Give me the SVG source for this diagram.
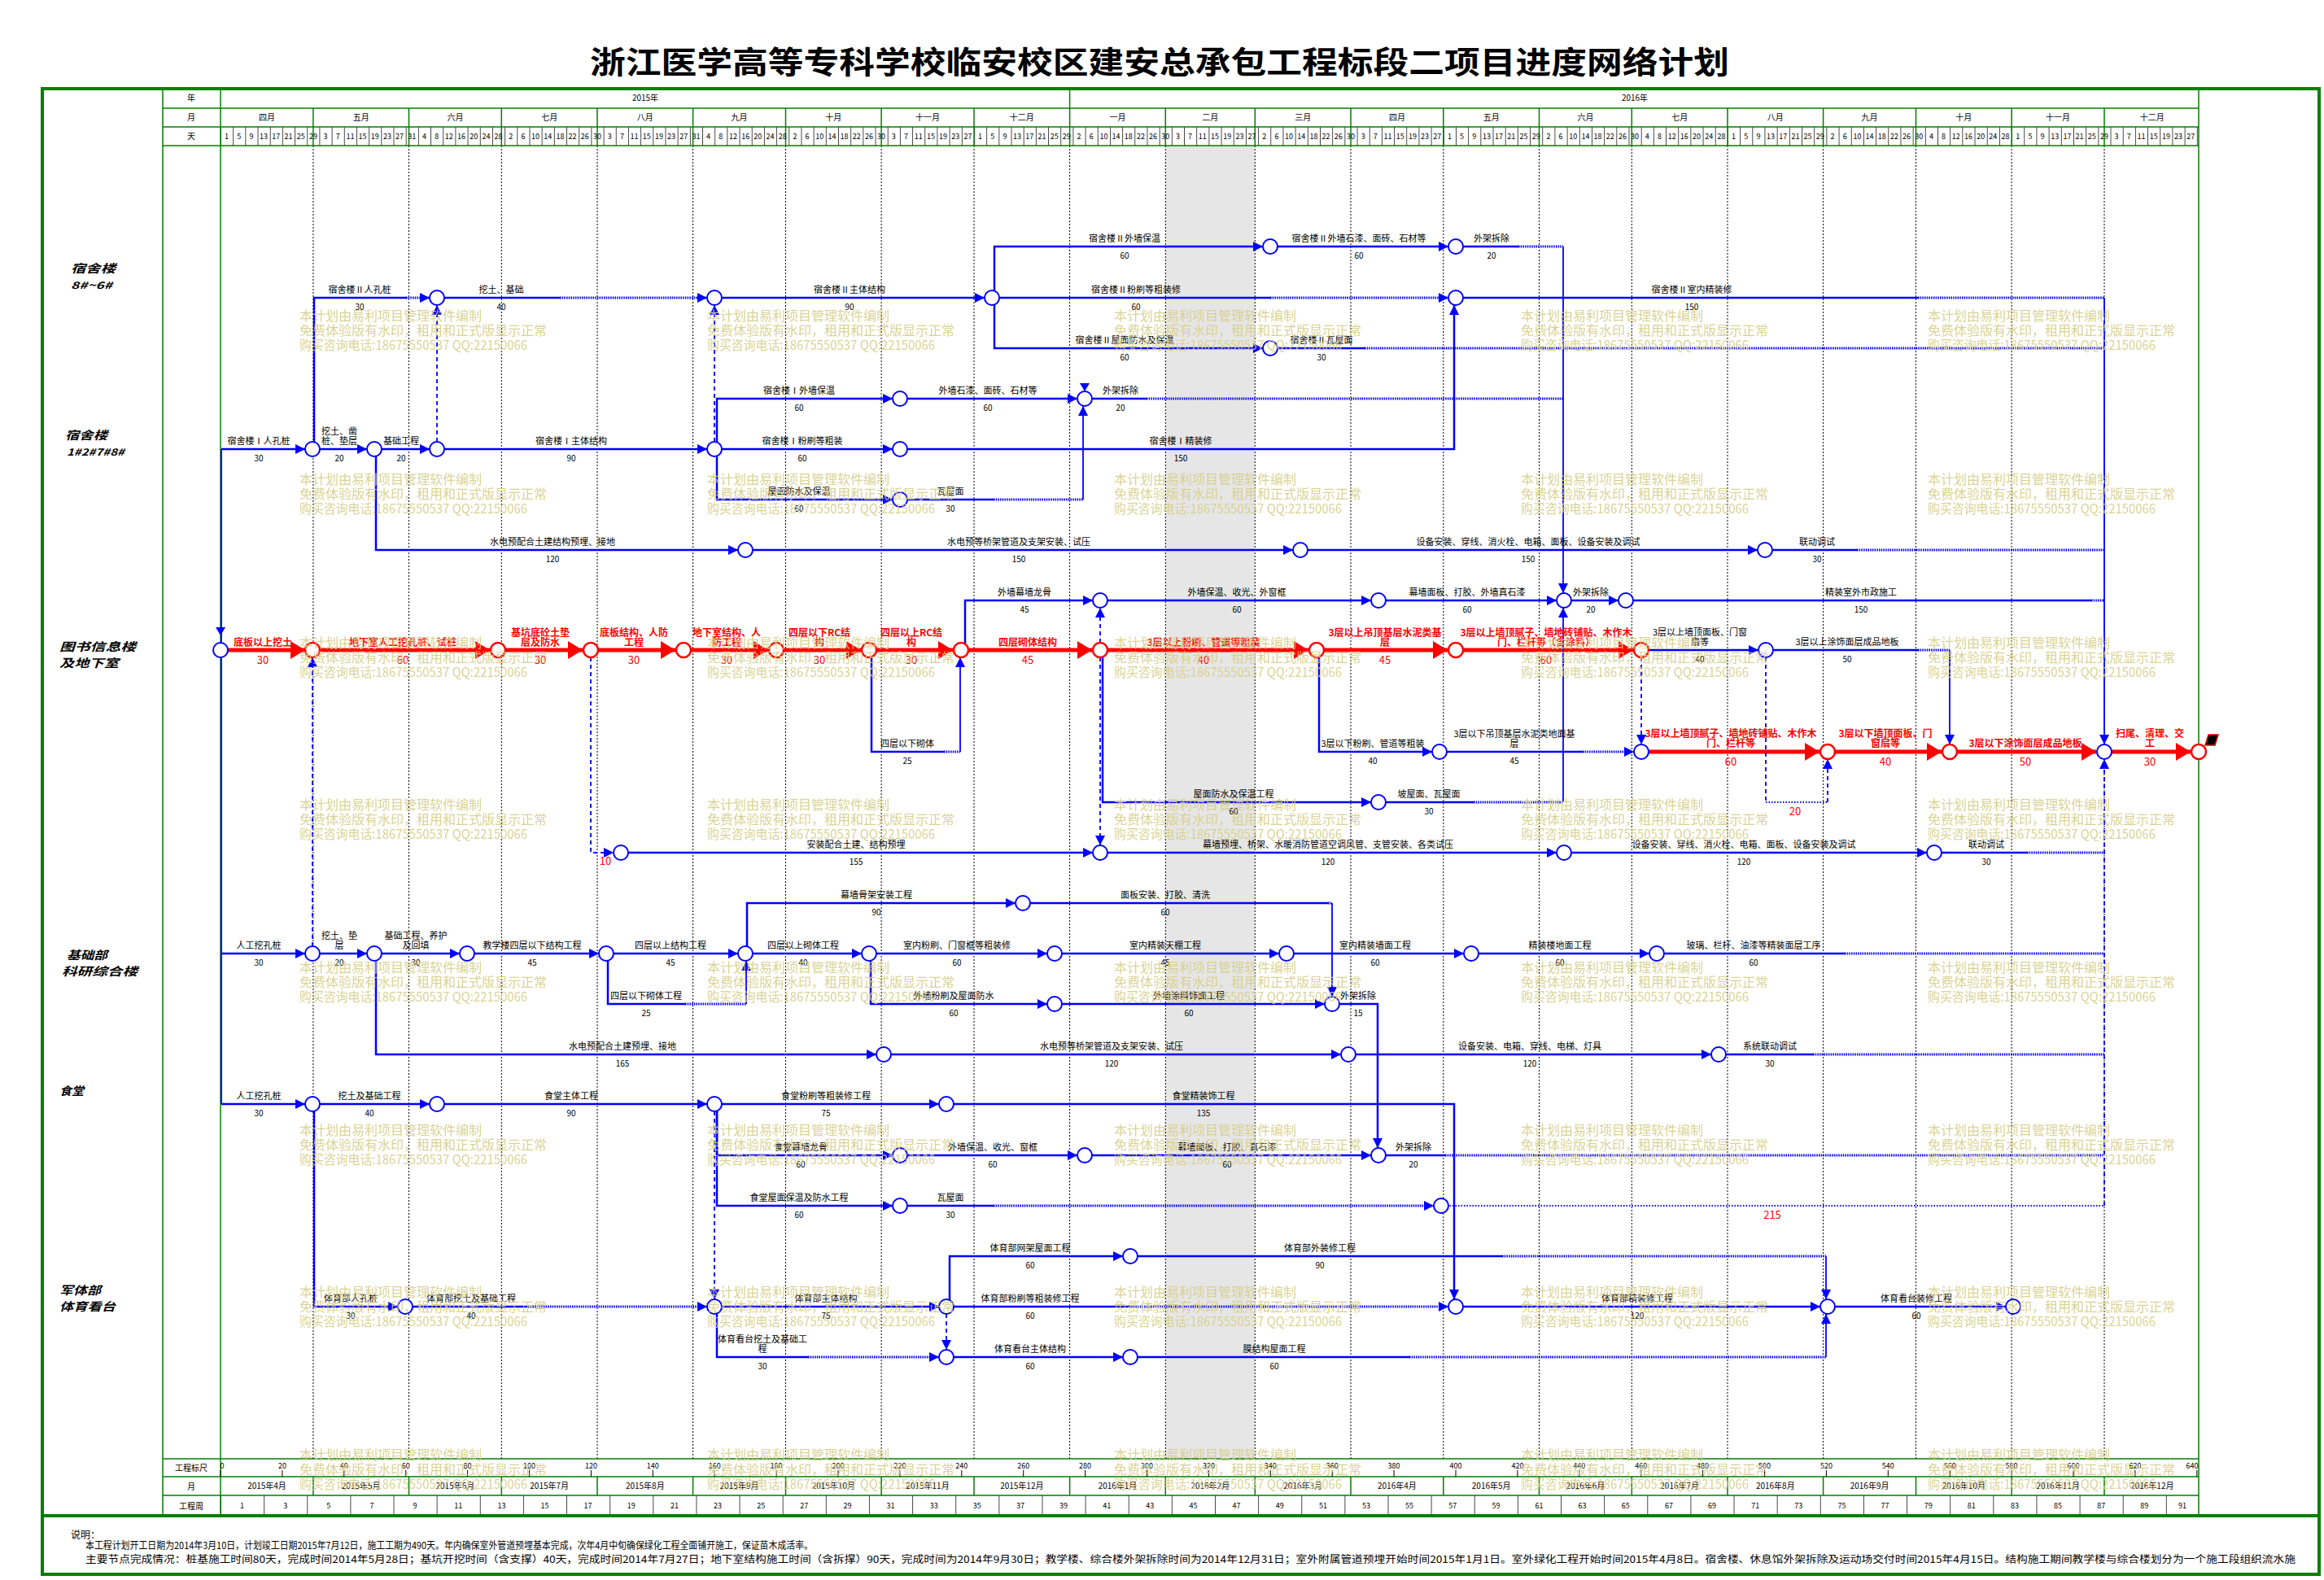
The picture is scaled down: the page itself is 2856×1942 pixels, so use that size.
<svg xmlns="http://www.w3.org/2000/svg" width="2856" height="1942" viewBox="0 0 2856 1942">
<style>
text{font-family:"Noto Sans CJK SC","Liberation Sans",sans-serif}
.n{font-size:11px;text-anchor:middle;fill:#000}
.d{font-size:10px;text-anchor:middle;fill:#000;font-family:"Liberation Sans",sans-serif}
.rn{font-size:12px;text-anchor:middle;fill:#f00;font-weight:bold}
.rd{font-size:13px;text-anchor:middle;fill:#f00;font-family:"Liberation Sans",sans-serif}
.h{font-size:10px;text-anchor:middle;fill:#000}
.dl{font-size:9px;text-anchor:middle;fill:#000;font-family:"Liberation Sans",sans-serif}
.lb{font-size:14px;font-weight:bold;font-style:italic;fill:#000}
.ls{font-size:12px;font-weight:bold;font-style:italic;fill:#000}
.wm{font-size:16px;fill:#d6cd88}
.b{stroke:#00f;stroke-width:2.5;fill:none}
.bt{stroke:#00f;stroke-width:1.8;fill:none}
.w{stroke:#00f;stroke-width:3;stroke-dasharray:1.5 1.2;fill:none}
.wt{stroke:#00f;stroke-width:2;stroke-dasharray:1.5 2;fill:none}
.v{stroke:#00f;stroke-width:1.8;stroke-dasharray:5 4;fill:none}
.r{stroke:#f00;stroke-width:5;fill:none}
.nb{fill:#fff;stroke:#00f;stroke-width:2}
.nr{fill:#fff;stroke:#f00;stroke-width:2.5}
.g{stroke:#008000;fill:none}
</style>
<defs>
<marker id="ab" viewBox="0 0 12 12" markerWidth="12" markerHeight="12" refX="12" refY="6" orient="auto" markerUnits="userSpaceOnUse"><path d="M0,0L12,6L0,12z" fill="#00f"/></marker>
<marker id="ar" viewBox="0 0 18 22" markerWidth="18" markerHeight="22" refX="18" refY="11" orient="auto" markerUnits="userSpaceOnUse"><path d="M0,0L18,11L0,22z" fill="#f00"/></marker>
<pattern id="dp" x="271" y="0" width="15.18" height="40" patternUnits="userSpaceOnUse"><line x1="0.4" y1="0" x2="0.4" y2="40" stroke="#000" stroke-width="0.8"/></pattern>
<pattern id="wp" x="271" y="0" width="53.13" height="40" patternUnits="userSpaceOnUse"><line x1="0.4" y1="0" x2="0.4" y2="40" stroke="#000" stroke-width="0.8"/></pattern>
<g id="wm" class="wm"><text x="0" y="6">本计划由易利项目管理软件编制</text><text x="0" y="24">免费体验版有水印，租用和正式版显示正常</text><text x="0" y="42" textLength="280" lengthAdjust="spacingAndGlyphs">购买咨询电话:18675550537 QQ:22150066</text></g>
</defs>
<rect width="2856" height="1942" fill="#fff"/>
<text x="1425" y="90" text-anchor="middle" font-size="38" font-weight="bold" textLength="1400" lengthAdjust="spacingAndGlyphs">浙江医学高等专科学校临安校区建安总承包工程标段二项目进度网络计划</text>

<g id="grid">
<rect x="1432" y="179" width="110" height="1614" fill="#e6e6e6"/>
<rect x="271" y="156" width="2431" height="23" fill="url(#dp)"/>
<rect x="271" y="1838" width="2431" height="25" fill="url(#wp)"/>
<path d="M384.9 179V1793M502.5 179V1793M616.3 179V1793M734 179V1793M851.6 179V1793M965.5 179V1793M1083.1 179V1793M1197 179V1793M1314.6 179V1793M1432.3 179V1793M1542.3 179V1793M1660 179V1793M1773.8 179V1793M1891.5 179V1793M2005.3 179V1793M2123 179V1793M2240.6 179V1793M2354.5 179V1793M2472.1 179V1793M2586 179V1793" stroke="#000" stroke-width="1" stroke-dasharray="2 2" fill="none"/>
<path class="g" stroke-width="1.5" d="M384.9 133V179M502.5 133V179M616.3 133V179M734 133V179M851.6 133V179M965.5 133V179M1083.1 133V179M1197 133V179M1314.6 107V179M1432.3 133V179M1542.3 133V179M1660 133V179M1773.8 133V179M1891.5 133V179M2005.3 133V179M2123 133V179M2240.6 133V179M2354.5 133V179M2472.1 133V179M2586 133V179"/>
<path class="g" stroke-width="1.5" d="M384.9 1815V1838M502.5 1815V1838M616.3 1815V1838M734 1815V1838M851.6 1815V1838M965.5 1815V1838M1083.1 1815V1838M1197 1815V1838M1314.6 1815V1838M1432.3 1815V1838M1542.3 1815V1838M1660 1815V1838M1773.8 1815V1838M1891.5 1815V1838M2005.3 1815V1838M2123 1815V1838M2240.6 1815V1838M2354.5 1815V1838M2472.1 1815V1838M2586 1815V1838"/>
<path class="g" stroke-width="1.5" d="M200 133H2702M200 156H2702M200 179H2702M200 1793H2702M200 1815H2702M200 1838H2702M200 107V1863M271 107V1863M2702 107V1863"/>
<path stroke="#000" stroke-width="1" fill="none" d="M271 1807V1815M346.9 1807V1815M422.8 1807V1815M498.7 1807V1815M574.6 1807V1815M650.5 1807V1815M726.4 1807V1815M802.3 1807V1815M878.2 1807V1815M954.1 1807V1815M1030 1807V1815M1105.9 1807V1815M1181.8 1807V1815M1257.7 1807V1815M1333.6 1807V1815M1409.5 1807V1815M1485.4 1807V1815M1561.3 1807V1815M1637.2 1807V1815M1713.1 1807V1815M1789 1807V1815M1864.9 1807V1815M1940.8 1807V1815M2016.7 1807V1815M2092.6 1807V1815M2168.5 1807V1815M2244.4 1807V1815M2320.3 1807V1815M2396.2 1807V1815M2472.1 1807V1815M2548 1807V1815M2623.9 1807V1815M2699.8 1807V1815"/>
<rect x="52" y="109" width="2798" height="1826" class="g" stroke-width="4"/>
<path class="g" stroke-width="4" d="M52 1863H2850"/>
</g>

<g id="header-text">
<text class="h" x="235" y="124">年</text><text class="h" x="235" y="148">月</text><text class="h" x="235" y="171">天</text>
<text class="h" x="793" y="124">2015年</text><text class="h" x="2009" y="124">2016年</text>
<text class="h" x="328" y="148">四月</text><text class="h" x="443.7" y="148">五月</text><text class="h" x="559.4" y="148">六月</text><text class="h" x="675.2" y="148">七月</text><text class="h" x="792.8" y="148">八月</text><text class="h" x="908.6" y="148">九月</text><text class="h" x="1024.3" y="148">十月</text><text class="h" x="1140" y="148">十一月</text><text class="h" x="1255.8" y="148">十二月</text><text class="h" x="1373.5" y="148">一月</text><text class="h" x="1487.3" y="148">二月</text><text class="h" x="1601.2" y="148">三月</text><text class="h" x="1716.9" y="148">四月</text><text class="h" x="1832.7" y="148">五月</text><text class="h" x="1948.4" y="148">六月</text><text class="h" x="2064.2" y="148">七月</text><text class="h" x="2181.8" y="148">八月</text><text class="h" x="2297.6" y="148">九月</text><text class="h" x="2413.3" y="148">十月</text><text class="h" x="2529.1" y="148">十一月</text><text class="h" x="2644.8" y="148">十二月</text>
<g class="dl">
<text x="278.6" y="171">1</text><text x="293.8" y="171">5</text><text x="309" y="171">9</text><text x="324.1" y="171">13</text><text x="339.3" y="171">17</text><text x="354.5" y="171">21</text><text x="369.7" y="171">25</text><text x="384.9" y="171">29</text>
<text x="400" y="171">3</text><text x="415.2" y="171">7</text><text x="430.4" y="171">11</text><text x="445.6" y="171">15</text><text x="460.8" y="171">19</text><text x="475.9" y="171">23</text><text x="491.1" y="171">27</text><text x="506.3" y="171">31</text>
<text x="521.5" y="171">4</text><text x="536.7" y="171">8</text><text x="551.8" y="171">12</text><text x="567" y="171">16</text><text x="582.2" y="171">20</text><text x="597.4" y="171">24</text><text x="612.6" y="171">28</text>
<text x="627.7" y="171">2</text><text x="642.9" y="171">6</text><text x="658.1" y="171">10</text><text x="673.3" y="171">14</text><text x="688.5" y="171">18</text><text x="703.6" y="171">22</text><text x="718.8" y="171">26</text><text x="734" y="171">30</text>
<text x="749.2" y="171">3</text><text x="764.4" y="171">7</text><text x="779.5" y="171">11</text><text x="794.7" y="171">15</text><text x="809.9" y="171">19</text><text x="825.1" y="171">23</text><text x="840.3" y="171">27</text><text x="855.4" y="171">31</text>
<text x="870.6" y="171">4</text><text x="885.8" y="171">8</text><text x="901" y="171">12</text><text x="916.2" y="171">16</text><text x="931.3" y="171">20</text><text x="946.5" y="171">24</text><text x="961.7" y="171">28</text>
<text x="976.9" y="171">2</text><text x="992.1" y="171">6</text><text x="1007.2" y="171">10</text><text x="1022.4" y="171">14</text><text x="1037.6" y="171">18</text><text x="1052.8" y="171">22</text><text x="1068" y="171">26</text><text x="1083.1" y="171">30</text>
<text x="1098.3" y="171">3</text><text x="1113.5" y="171">7</text><text x="1128.7" y="171">11</text><text x="1143.9" y="171">15</text><text x="1159" y="171">19</text><text x="1174.2" y="171">23</text><text x="1189.4" y="171">27</text>
<text x="1204.6" y="171">1</text><text x="1219.8" y="171">5</text><text x="1234.9" y="171">9</text><text x="1250.1" y="171">13</text><text x="1265.3" y="171">17</text><text x="1280.5" y="171">21</text><text x="1295.7" y="171">25</text><text x="1310.8" y="171">29</text>
<text x="1326" y="171">2</text><text x="1341.2" y="171">6</text><text x="1356.4" y="171">10</text><text x="1371.6" y="171">14</text><text x="1386.7" y="171">18</text><text x="1401.9" y="171">22</text><text x="1417.1" y="171">26</text><text x="1432.3" y="171">30</text>
<text x="1447.5" y="171">3</text><text x="1462.6" y="171">7</text><text x="1477.8" y="171">11</text><text x="1493" y="171">15</text><text x="1508.2" y="171">19</text><text x="1523.4" y="171">23</text><text x="1538.5" y="171">27</text>
<text x="1553.7" y="171">2</text><text x="1568.9" y="171">6</text><text x="1584.1" y="171">10</text><text x="1599.3" y="171">14</text><text x="1614.4" y="171">18</text><text x="1629.6" y="171">22</text><text x="1644.8" y="171">26</text><text x="1660" y="171">30</text>
<text x="1675.2" y="171">3</text><text x="1690.3" y="171">7</text><text x="1705.5" y="171">11</text><text x="1720.7" y="171">15</text><text x="1735.9" y="171">19</text><text x="1751.1" y="171">23</text><text x="1766.2" y="171">27</text>
<text x="1781.4" y="171">1</text><text x="1796.6" y="171">5</text><text x="1811.8" y="171">9</text><text x="1827" y="171">13</text><text x="1842.1" y="171">17</text><text x="1857.3" y="171">21</text><text x="1872.5" y="171">25</text><text x="1887.7" y="171">29</text>
<text x="1902.9" y="171">2</text><text x="1918" y="171">6</text><text x="1933.2" y="171">10</text><text x="1948.4" y="171">14</text><text x="1963.6" y="171">18</text><text x="1978.8" y="171">22</text><text x="1993.9" y="171">26</text><text x="2009.1" y="171">30</text>
<text x="2024.3" y="171">4</text><text x="2039.5" y="171">8</text><text x="2054.7" y="171">12</text><text x="2069.8" y="171">16</text><text x="2085" y="171">20</text><text x="2100.2" y="171">24</text><text x="2115.4" y="171">28</text>
<text x="2130.6" y="171">1</text><text x="2145.7" y="171">5</text><text x="2160.9" y="171">9</text><text x="2176.1" y="171">13</text><text x="2191.3" y="171">17</text><text x="2206.5" y="171">21</text><text x="2221.6" y="171">25</text><text x="2236.8" y="171">29</text>
<text x="2252" y="171">2</text><text x="2267.2" y="171">6</text><text x="2282.4" y="171">10</text><text x="2297.5" y="171">14</text><text x="2312.7" y="171">18</text><text x="2327.9" y="171">22</text><text x="2343.1" y="171">26</text><text x="2358.3" y="171">30</text>
<text x="2373.4" y="171">4</text><text x="2388.6" y="171">8</text><text x="2403.8" y="171">12</text><text x="2419" y="171">16</text><text x="2434.2" y="171">20</text><text x="2449.3" y="171">24</text><text x="2464.5" y="171">28</text>
<text x="2479.7" y="171">1</text><text x="2494.9" y="171">5</text><text x="2510.1" y="171">9</text><text x="2525.2" y="171">13</text><text x="2540.4" y="171">17</text><text x="2555.6" y="171">21</text><text x="2570.8" y="171">25</text><text x="2586" y="171">29</text>
<text x="2601.1" y="171">3</text><text x="2616.3" y="171">7</text><text x="2631.5" y="171">11</text><text x="2646.7" y="171">15</text><text x="2661.9" y="171">19</text><text x="2677" y="171">23</text><text x="2692.2" y="171">27</text>
</g>
</g>

<g id="footer-scale">
<text class="h" x="235" y="1808">工程标尺</text><text class="h" x="235" y="1831">月</text><text class="h" x="235" y="1855">工程周</text>
<g class="dl">
<text x="273" y="1805">0</text><text x="346.9" y="1805">20</text><text x="422.8" y="1805">40</text><text x="498.7" y="1805">60</text><text x="574.6" y="1805">80</text><text x="650.5" y="1805">100</text><text x="726.4" y="1805">120</text><text x="802.3" y="1805">140</text><text x="878.2" y="1805">160</text><text x="954.1" y="1805">180</text><text x="1030" y="1805">200</text><text x="1105.9" y="1805">220</text><text x="1181.8" y="1805">240</text><text x="1257.7" y="1805">260</text><text x="1333.6" y="1805">280</text><text x="1409.5" y="1805">300</text><text x="1485.4" y="1805">320</text><text x="1561.3" y="1805">340</text><text x="1637.2" y="1805">360</text><text x="1713.1" y="1805">380</text><text x="1789" y="1805">400</text><text x="1864.9" y="1805">420</text><text x="1940.8" y="1805">440</text><text x="2016.7" y="1805">460</text><text x="2092.6" y="1805">480</text><text x="2168.5" y="1805">500</text><text x="2244.4" y="1805">520</text><text x="2320.3" y="1805">540</text><text x="2396.2" y="1805">560</text><text x="2472.1" y="1805">580</text><text x="2548" y="1805">600</text><text x="2623.9" y="1805">620</text><text x="2694" y="1805">640</text>
<text x="297.6" y="1854">1</text><text x="350.7" y="1854">3</text><text x="403.8" y="1854">5</text><text x="457" y="1854">7</text><text x="510.1" y="1854">9</text><text x="563.2" y="1854">11</text><text x="616.4" y="1854">13</text><text x="669.5" y="1854">15</text><text x="722.6" y="1854">17</text><text x="775.8" y="1854">19</text><text x="828.9" y="1854">21</text><text x="882" y="1854">23</text><text x="935.2" y="1854">25</text><text x="988.3" y="1854">27</text><text x="1041.4" y="1854">29</text><text x="1094.6" y="1854">31</text><text x="1147.7" y="1854">33</text><text x="1200.8" y="1854">35</text><text x="1253.9" y="1854">37</text><text x="1307.1" y="1854">39</text><text x="1360.2" y="1854">41</text><text x="1413.3" y="1854">43</text><text x="1466.5" y="1854">45</text><text x="1519.6" y="1854">47</text><text x="1572.7" y="1854">49</text><text x="1625.9" y="1854">51</text><text x="1679" y="1854">53</text><text x="1732.1" y="1854">55</text><text x="1785.2" y="1854">57</text><text x="1838.4" y="1854">59</text><text x="1891.5" y="1854">61</text><text x="1944.6" y="1854">63</text><text x="1997.8" y="1854">65</text><text x="2050.9" y="1854">67</text><text x="2104" y="1854">69</text><text x="2157.2" y="1854">71</text><text x="2210.3" y="1854">73</text><text x="2263.4" y="1854">75</text><text x="2316.5" y="1854">77</text><text x="2369.7" y="1854">79</text><text x="2422.8" y="1854">81</text><text x="2475.9" y="1854">83</text><text x="2529.1" y="1854">85</text><text x="2582.2" y="1854">87</text><text x="2635.3" y="1854">89</text><text x="2682" y="1854">91</text>
</g>
<g class="h">
<text x="328" y="1830">2015年4月</text><text x="443.7" y="1830">2015年5月</text><text x="559.4" y="1830">2015年6月</text><text x="675.2" y="1830">2015年7月</text><text x="792.8" y="1830">2015年8月</text><text x="908.6" y="1830">2015年9月</text><text x="1024.3" y="1830">2015年10月</text><text x="1140" y="1830">2015年11月</text><text x="1255.8" y="1830">2015年12月</text><text x="1373.5" y="1830">2016年1月</text><text x="1487.3" y="1830">2016年2月</text><text x="1601.2" y="1830">2016年3月</text><text x="1716.9" y="1830">2016年4月</text><text x="1832.7" y="1830">2016年5月</text><text x="1948.4" y="1830">2016年6月</text><text x="2064.2" y="1830">2016年7月</text><text x="2181.8" y="1830">2016年8月</text><text x="2297.6" y="1830">2016年9月</text><text x="2413.3" y="1830">2016年10月</text><text x="2529.1" y="1830">2016年11月</text><text x="2644.8" y="1830">2016年12月</text>
</g>
</g>

<g id="row-labels">
<text class="lb" x="87" y="335" textLength="55" lengthAdjust="spacingAndGlyphs">宿舍楼</text><text class="ls" x="87" y="355" textLength="51" lengthAdjust="spacingAndGlyphs">8#~6#</text>
<text class="lb" x="80" y="540" textLength="52" lengthAdjust="spacingAndGlyphs">宿舍楼</text><text class="ls" x="82" y="560" textLength="71" lengthAdjust="spacingAndGlyphs">1#2#7#8#</text>
<text class="lb" x="73" y="800" textLength="94" lengthAdjust="spacingAndGlyphs">图书信息楼</text><text class="lb" x="73" y="820" textLength="73" lengthAdjust="spacingAndGlyphs">及地下室</text>
<text class="lb" x="82" y="1179" textLength="50" lengthAdjust="spacingAndGlyphs">基础部</text><text class="lb" x="76" y="1199" textLength="93" lengthAdjust="spacingAndGlyphs">科研综合楼</text>
<text class="lb" x="73" y="1346" textLength="30" lengthAdjust="spacingAndGlyphs">食堂</text>
<text class="lb" x="73" y="1591" textLength="51" lengthAdjust="spacingAndGlyphs">军体部</text><text class="lb" x="73" y="1611" textLength="69" lengthAdjust="spacingAndGlyphs">体育看台</text>
</g>

<g id="connectors">
<path class="bt" d="M272 552V1357"/>
<path d="M271 781l-6-10h12z" fill="#00f"/>
<path d="M1333 481l-6-10h12z" fill="#00f"/>
<path class="b" d="M272 552H375" marker-end="url(#ab)"/>
<path class="b" d="M384 552H451" marker-end="url(#ab)"/>
<path class="b" d="M386 552V366H499"/><path class="w" d="M499 366H528" marker-end="url(#ab)"/>
<path class="b" d="M460 552H528" marker-end="url(#ab)"/>
<path class="v" d="M537 552V375" marker-end="url(#ab)"/>
<path class="b" d="M537 366H688"/><path class="w" d="M688 366H869" marker-end="url(#ab)"/>
<path class="b" d="M537 552H869" marker-end="url(#ab)"/>
<path class="v" d="M878 552V375" marker-end="url(#ab)"/>
<path class="b" d="M878 366H1210" marker-end="url(#ab)"/>
<path class="b" d="M881 552V490H1097" marker-end="url(#ab)"/>
<path class="b" d="M878 552H1097" marker-end="url(#ab)"/>
<path class="b" d="M881 552V614H1097" marker-end="url(#ab)"/>
<path class="b" d="M1106 614H1221"/><path class="w" d="M1221 614H1331"/><path class="bt" d="M1331 614V499" marker-end="url(#ab)"/>
<path class="b" d="M462 552V676H907" marker-end="url(#ab)"/>
<path class="b" d="M916 676H1589" marker-end="url(#ab)"/>
<path class="b" d="M1598 676H2160" marker-end="url(#ab)"/>
<path class="b" d="M2169 676H2282"/><path class="w" d="M2282 676H2586"/>
<path class="b" d="M1106 490H1324" marker-end="url(#ab)"/>
<path class="b" d="M1333 490H1409"/><path class="w" d="M1409 490H1921"/>
<path class="b" d="M1106 552H1787V375" marker-end="url(#ab)"/>
<path class="b" d="M1222 366V303H1552" marker-end="url(#ab)"/>
<path class="b" d="M1219 366H1561"/><path class="w" d="M1561 366H1780" marker-end="url(#ab)"/>
<path class="b" d="M1222 366V428H1552" marker-end="url(#ab)"/>
<path class="b" d="M1561 303H1780" marker-end="url(#ab)"/>
<path class="b" d="M1789 303H1866"/><path class="w" d="M1866 303H1921"/><path class="bt" d="M1921 303V729" marker-end="url(#ab)"/>
<path class="b" d="M1789 366H2357"/><path class="w" d="M2357 366H2586"/>
<path class="b" d="M1561 428H1677"/><path class="w" d="M1677 428H2586"/>
<path class="bt" d="M2586 366V915" marker-end="url(#ab)"/>

<path class="r" d="M271 799H375" marker-end="url(#ar)"/>
<path class="r" d="M384 799H602" marker-end="url(#ar)"/>
<path class="r" d="M612 799H716" marker-end="url(#ar)"/>
<path class="r" d="M726 799H830" marker-end="url(#ar)"/>
<path class="r" d="M840 799H944" marker-end="url(#ar)"/>
<path class="r" d="M954 799H1058" marker-end="url(#ar)"/>
<path class="r" d="M1068 799H1171" marker-end="url(#ar)"/>
<path class="r" d="M1181 799H1342" marker-end="url(#ar)"/>
<path class="r" d="M1352 799H1608" marker-end="url(#ar)"/>
<path class="r" d="M1618 799H1779" marker-end="url(#ar)"/>
<path class="r" d="M1789 799H2007" marker-end="url(#ar)"/>
<path class="b" d="M2017 799H2161" marker-end="url(#ab)"/>
<path class="b" d="M2170 799H2357"/><path class="w" d="M2357 799H2396"/><path class="bt" d="M2396 799V915" marker-end="url(#ab)"/>
<path class="b" d="M1071 799V924H1160"/><path class="w" d="M1160 924H1180"/><path class="bt" d="M1180 924V808" marker-end="url(#ab)"/>
<path class="b" d="M1186 799V738H1343" marker-end="url(#ab)"/>
<path class="v" d="M1352 799V747" marker-end="url(#ab)"/>
<path class="v" d="M1352 799V1039" marker-end="url(#ab)"/>
<path class="b" d="M1355 799V986H1685" marker-end="url(#ab)"/>
<path class="b" d="M1694 986H1811"/><path class="w" d="M1811 986H1921"/><path class="bt" d="M1921 986V747" marker-end="url(#ab)"/>
<path class="b" d="M1352 738H1685" marker-end="url(#ab)"/>
<path class="b" d="M1694 738H1913" marker-end="url(#ab)"/>
<path class="b" d="M1922 738H1989" marker-end="url(#ab)"/>
<path class="b" d="M1998 738H2570"/><path class="w" d="M2570 738H2586"/>
<path class="b" d="M1621 799V924H1760" marker-end="url(#ab)"/>
<path class="b" d="M1769 924H1945"/><path class="w" d="M1945 924H2008" marker-end="url(#ab)"/>
<path class="v" d="M2017 799V915" marker-end="url(#ab)"/>
<path class="r" d="M2017 924H2236" marker-end="url(#ar)"/>
<path class="v" d="M2170 799V986"/><path class="wt" d="M2170 986H2246"/><path class="v" d="M2246 986V933" marker-end="url(#ab)"/>
<path class="r" d="M2246 924H2386" marker-end="url(#ar)"/>
<path class="r" d="M2396 924H2576" marker-end="url(#ar)"/>
<path class="r" d="M2586 924H2692" marker-end="url(#ar)"/>
<path class="v" d="M726 799V1048H754" marker-end="url(#ab)"/>
<path class="b" d="M763 1048H1343" marker-end="url(#ab)"/>
<path class="b" d="M1352 1048H1913" marker-end="url(#ab)"/>
<path class="b" d="M1922 1048H2368" marker-end="url(#ab)"/>
<path class="b" d="M2377 1048H2491"/><path class="w" d="M2491 1048H2586"/>
<path class="v" d="M384 1172V808" marker-end="url(#ab)"/>

<path class="b" d="M272 1172H375" marker-end="url(#ab)"/>
<path class="b" d="M384 1172H451" marker-end="url(#ab)"/>
<path class="b" d="M460 1172H565" marker-end="url(#ab)"/>
<path class="b" d="M574 1172H736" marker-end="url(#ab)"/>
<path class="b" d="M745 1172H907" marker-end="url(#ab)"/>
<path class="b" d="M747 1172V1234H842"/><path class="w" d="M842 1234H917"/><path class="bt" d="M917 1234V1181" marker-end="url(#ab)"/>
<path class="b" d="M916 1172H1059" marker-end="url(#ab)"/>
<path class="b" d="M918 1172V1110H1248" marker-end="url(#ab)"/>
<path class="b" d="M1068 1172H1287" marker-end="url(#ab)"/>
<path class="b" d="M1070 1172V1234H1287" marker-end="url(#ab)"/>
<path class="b" d="M462 1172V1296H1077" marker-end="url(#ab)"/>
<path class="b" d="M1257 1110H1632"/><path class="w" d="M1632 1110H1637"/><path class="bt" d="M1637 1110V1225" marker-end="url(#ab)"/>
<path class="b" d="M1296 1172H1572" marker-end="url(#ab)"/>
<path class="b" d="M1581 1172H1799" marker-end="url(#ab)"/>
<path class="b" d="M1808 1172H2027" marker-end="url(#ab)"/>
<path class="b" d="M2036 1172H2267"/><path class="w" d="M2267 1172H2586"/>
<path class="b" d="M1296 1234H1628" marker-end="url(#ab)"/>
<path class="b" d="M1637 1234H1693V1411" marker-end="url(#ab)"/>
<path class="b" d="M1086 1296H1648" marker-end="url(#ab)"/>
<path class="b" d="M1657 1296H2103" marker-end="url(#ab)"/>
<path class="b" d="M2112 1296H2228"/><path class="w" d="M2228 1296H2586"/>

<path class="b" d="M272 1357H375" marker-end="url(#ab)"/>
<path class="b" d="M384 1357H528" marker-end="url(#ab)"/>
<path class="b" d="M537 1357H869" marker-end="url(#ab)"/>
<path class="b" d="M878 1357H1154" marker-end="url(#ab)"/>
<path class="b" d="M1163 1357H1787V1597" marker-end="url(#ab)"/>
<path class="b" d="M881 1357V1420H1097" marker-end="url(#ab)"/>
<path class="b" d="M1106 1420H1324" marker-end="url(#ab)"/>
<path class="b" d="M1333 1420H1685" marker-end="url(#ab)"/>
<path class="b" d="M1694 1420H1776"/><path class="w" d="M1776 1420H2586"/>
<path class="b" d="M881 1357V1482H1097" marker-end="url(#ab)"/>
<path class="b" d="M1106 1482H1221"/><path class="w" d="M1221 1482H1762" marker-end="url(#ab)"/>
<path class="wt" d="M1771 1482H2586"/><path class="v" d="M2586 1482V933" marker-end="url(#ab)"/>
<path class="v" d="M878 1357V1597" marker-end="url(#ab)"/>
<path class="b" d="M386 1357V1606H489" marker-end="url(#ab)"/>

<path class="b" d="M498 1606H649"/><path class="w" d="M649 1606H869" marker-end="url(#ab)"/>
<path class="b" d="M878 1606H1154" marker-end="url(#ab)"/>
<path class="b" d="M881 1606V1668H993"/><path class="w" d="M993 1668H1154" marker-end="url(#ab)"/>
<path class="v" d="M1163 1606V1659" marker-end="url(#ab)"/>
<path class="b" d="M1167 1606V1544H1380" marker-end="url(#ab)"/>
<path class="b" d="M1163 1606H1390"/><path class="w" d="M1390 1606H1780" marker-end="url(#ab)"/>
<path class="b" d="M1163 1668H1380" marker-end="url(#ab)"/>
<path class="b" d="M1389 1544H1846"/><path class="w" d="M1846 1544H2244"/><path class="bt" d="M2244 1544V1597" marker-end="url(#ab)"/>
<path class="b" d="M1789 1606H2237" marker-end="url(#ab)"/>
<path class="b" d="M1389 1668H1732"/><path class="w" d="M1732 1668H2244"/><path class="bt" d="M2244 1668V1615" marker-end="url(#ab)"/>
<path class="b" d="M2246 1606H2465" marker-end="url(#ab)"/>
</g>

<g id="labels">
<g class="n">
<text x="318" y="546">宿舍楼Ⅰ人孔桩</text><text x="417" y="534">挖土、凿</text><text x="417" y="546">桩、垫层</text><text x="442" y="360">宿舍楼Ⅱ人孔桩</text><text x="493" y="546">基础工程</text><text x="616" y="360">挖土、基础</text><text x="702" y="546">宿舍楼Ⅰ主体结构</text><text x="1044" y="360">宿舍楼Ⅱ主体结构</text><text x="982" y="484">宿舍楼Ⅰ外墙保温</text><text x="986" y="546">宿舍楼Ⅰ粉刷等粗装</text><text x="982" y="608">屋面防水及保温</text><text x="1168" y="608">瓦屋面</text><text x="679" y="670">水电预配合土建结构预埋、接地</text><text x="1252" y="670">水电预等桥架管道及支架安装、试压</text><text x="1878" y="670">设备安装、穿线、消火栓、电箱、面板、设备安装及调试</text><text x="2233" y="670">联动调试</text><text x="1214" y="484">外墙石漆、面砖、石材等</text><text x="1377" y="484">外架拆除</text><text x="1451" y="546">宿舍楼Ⅰ精装修</text><text x="1382" y="297">宿舍楼Ⅱ外墙保温</text><text x="1396" y="360">宿舍楼Ⅱ粉刷等粗装修</text><text x="1382" y="422">宿舍楼Ⅱ屋面防水及保温</text><text x="1670" y="297">宿舍楼Ⅱ外墙石漆、面砖、石材等</text><text x="1833" y="297">外架拆除</text><text x="2079" y="360">宿舍楼Ⅱ室内精装修</text><text x="1624" y="422">宿舍楼Ⅱ瓦屋面</text>
<text x="2089" y="781">3层以上墙顶面板、门窗</text><text x="2089" y="793">扇等</text><text x="2270" y="793">3层以上涂饰面层成品地板</text><text x="1115" y="918">四层以下砌体</text><text x="1259" y="732">外墙幕墙龙骨</text><text x="1516" y="980">屋面防水及保温工程</text><text x="1756" y="980">坡屋面、瓦屋面</text><text x="1520" y="732">外墙保温、收光、外窗框</text><text x="1803" y="732">幕墙面板、打胶、外墙真石漆</text><text x="1955" y="732">外架拆除</text><text x="2287" y="732">精装室外市政施工</text><text x="1687" y="918">3层以下粉刷、管道等粗装</text><text x="1861" y="906">3层以下吊顶基层水泥类地面基</text><text x="1861" y="918">层</text>
<text x="1052" y="1042">安装配合土建、结构预埋</text><text x="1632" y="1042">幕墙预埋、桥架、水暖消防管道空调风管、支管安装、各类试压</text><text x="2143" y="1042">设备安装、穿线、消火栓、电箱、面板、设备安装及调试</text><text x="2441" y="1042">联动调试</text>
<text x="318" y="1166">人工挖孔桩</text><text x="417" y="1154">挖土、垫</text><text x="417" y="1166">层</text><text x="511" y="1154">基础工程、养护</text><text x="511" y="1166">及回填</text><text x="654" y="1166">教学楼四层以下结构工程</text><text x="824" y="1166">四层以上结构工程</text><text x="794" y="1228">四层以下砌体工程</text><text x="987" y="1166">四层以上砌体工程</text><text x="1077" y="1104">幕墙骨架安装工程</text><text x="1176" y="1166">室内粉刷、门窗框等粗装修</text><text x="1172" y="1228">外墙粉刷及屋面防水</text><text x="765" y="1290">水电预配合土建预埋、接地</text><text x="1432" y="1104">面板安装、打胶、清洗</text><text x="1432" y="1166">室内精装天棚工程</text><text x="1690" y="1166">室内精装墙面工程</text><text x="1917" y="1166">精装楼地面工程</text><text x="2155" y="1166">玻璃、栏杆、油漆等精装面层工序</text><text x="1461" y="1228">外墙涂料饰面工程</text><text x="1669" y="1228">外架拆除</text><text x="1366" y="1290">水电预等桥架管道及支架安装、试压</text><text x="1880" y="1290">设备安装、电箱、穿线、电梯、灯具</text><text x="2175" y="1290">系统联动调试</text>
<text x="318" y="1351">人工挖孔桩</text><text x="454" y="1351">挖土及基础工程</text><text x="702" y="1351">食堂主体工程</text><text x="1015" y="1351">食堂粉刷等粗装修工程</text><text x="1479" y="1351">食堂精装饰工程</text><text x="984" y="1414">食堂幕墙龙骨</text><text x="1220" y="1414">外墙保温、收光、窗框</text><text x="1508" y="1414">幕墙面板、打胶、真石漆</text><text x="1737" y="1414">外架拆除</text><text x="982" y="1476">食堂屋面保温及防水工程</text><text x="1168" y="1476">瓦屋面</text>
<text x="431" y="1600">体育部人孔桩</text><text x="579" y="1600">体育部挖土及基础工程</text><text x="1015" y="1600">体育部主体结构</text><text x="937" y="1650">体育看台挖土及基础工</text><text x="937" y="1662">程</text><text x="1266" y="1538">体育部网架屋面工程</text><text x="1266" y="1600">体育部粉刷等粗装修工程</text><text x="1266" y="1662">体育看台主体结构</text><text x="1622" y="1538">体育部外装修工程</text><text x="2012" y="1600">体育部精装修工程</text><text x="2355" y="1600">体育看台装修工程</text><text x="1566" y="1662">膜结构屋面工程</text>
</g>
<g class="d">
<text x="318" y="567">30</text><text x="417" y="567">20</text><text x="442" y="381">30</text><text x="493" y="567">20</text><text x="616" y="381">40</text><text x="702" y="567">90</text><text x="1044" y="381">90</text><text x="982" y="505">60</text><text x="986" y="567">60</text><text x="982" y="629">60</text><text x="1168" y="629">30</text><text x="679" y="691">120</text><text x="1252" y="691">150</text><text x="1878" y="691">150</text><text x="2233" y="691">30</text><text x="1214" y="505">60</text><text x="1377" y="505">20</text><text x="1451" y="567">150</text><text x="1382" y="318">60</text><text x="1396" y="381">60</text><text x="1382" y="443">60</text><text x="1670" y="318">60</text><text x="1833" y="318">20</text><text x="2079" y="381">150</text><text x="1624" y="443">30</text>
<text x="2089" y="814">40</text><text x="2270" y="814">50</text><text x="1115" y="939">25</text><text x="1259" y="753">45</text><text x="1516" y="1001">60</text><text x="1756" y="1001">30</text><text x="1520" y="753">60</text><text x="1803" y="753">60</text><text x="1955" y="753">20</text><text x="2287" y="753">150</text><text x="1687" y="939">40</text><text x="1861" y="939">45</text>
<text x="1052" y="1063">155</text><text x="1632" y="1063">120</text><text x="2143" y="1063">120</text><text x="2441" y="1063">30</text>
<text x="318" y="1187">30</text><text x="417" y="1187">20</text><text x="511" y="1187">30</text><text x="654" y="1187">45</text><text x="824" y="1187">45</text><text x="794" y="1249">25</text><text x="987" y="1187">40</text><text x="1077" y="1125">90</text><text x="1176" y="1187">60</text><text x="1172" y="1249">60</text><text x="765" y="1311">165</text><text x="1432" y="1125">60</text><text x="1432" y="1187">45</text><text x="1690" y="1187">60</text><text x="1917" y="1187">60</text><text x="2155" y="1187">60</text><text x="1461" y="1249">60</text><text x="1669" y="1249">15</text><text x="1366" y="1311">120</text><text x="1880" y="1311">120</text><text x="2175" y="1311">30</text>
<text x="318" y="1372">30</text><text x="454" y="1372">40</text><text x="702" y="1372">90</text><text x="1015" y="1372">75</text><text x="1479" y="1372">135</text><text x="984" y="1435">60</text><text x="1220" y="1435">60</text><text x="1508" y="1435">60</text><text x="1737" y="1435">20</text><text x="982" y="1497">60</text><text x="1168" y="1497">30</text>
<text x="431" y="1621">30</text><text x="579" y="1621">40</text><text x="1015" y="1621">75</text><text x="937" y="1683">30</text><text x="1266" y="1559">60</text><text x="1266" y="1621">60</text><text x="1266" y="1683">60</text><text x="1622" y="1559">90</text><text x="2012" y="1621">120</text><text x="2355" y="1621">60</text><text x="1566" y="1683">60</text>
</g>
<g class="rn">
<text x="323" y="794">底板以上挖土</text><text x="495" y="794">地下室人工挖孔桩、试桩</text><text x="664" y="782">基坑底砼土垫</text><text x="664" y="794">层及防水</text><text x="779" y="782">底板结构、人防</text><text x="779" y="794">工程</text><text x="893" y="782">地下室结构、人</text><text x="893" y="794">防工程</text><text x="1007" y="782">四层以下RC结</text><text x="1007" y="794">构</text><text x="1120" y="782">四层以上RC结</text><text x="1120" y="794">构</text><text x="1263" y="794">四层砌体结构</text><text x="1479" y="794">3层以上粉刷、管道等粗装</text><text x="1702" y="782">3层以上吊顶基层水泥类基</text><text x="1702" y="794">层</text><text x="1900" y="782">3层以上墙顶腻子、墙地砖铺贴、木作木</text><text x="1900" y="794">门、栏杆等（含涂料）</text>
<text x="2127" y="906">3层以上墙顶腻子、墙地砖铺贴、木作木</text><text x="2127" y="918">门、栏杆等</text><text x="2317" y="906">3层以下墙顶面板、门</text><text x="2317" y="918">窗扇等</text><text x="2489" y="918">3层以下涂饰面层成品地板</text><text x="2642" y="906">扫尾、清理、交</text><text x="2642" y="918">工</text>
</g>
<g class="rd">
<text x="323" y="816">30</text><text x="495" y="816">60</text><text x="664" y="816">30</text><text x="779" y="816">30</text><text x="893" y="816">30</text><text x="1007" y="816">30</text><text x="1120" y="816">30</text><text x="1263" y="816">45</text><text x="1479" y="816">40</text><text x="1702" y="816">45</text><text x="1900" y="816">60</text>
<text x="2127" y="941">60</text><text x="2317" y="941">40</text><text x="2489" y="941">50</text><text x="2642" y="941">30</text>
<text x="2206" y="1002">20</text><text x="744" y="1063">10</text><text x="2178" y="1498">215</text>
</g>
</g>

<g id="nodes">
<g id="n-start"><circle class="nb" cx="271" cy="799" r="9"/></g>
<g id="n-R1"><circle class="nr" cx="384" cy="799" r="9"/></g>
<g id="n-R2"><circle class="nr" cx="612" cy="799" r="9"/></g>
<g id="n-R3"><circle class="nr" cx="726" cy="799" r="9"/></g>
<g id="n-R4"><circle class="nr" cx="840" cy="799" r="9"/></g>
<g id="n-R5"><circle class="nr" cx="954" cy="799" r="9"/></g>
<g id="n-R6"><circle class="nr" cx="1068" cy="799" r="9"/></g>
<g id="n-R7"><circle class="nr" cx="1181" cy="799" r="9"/></g>
<g id="n-R8"><circle class="nr" cx="1352" cy="799" r="9"/></g>
<g id="n-R9"><circle class="nr" cx="1618" cy="799" r="9"/></g>
<g id="n-R10"><circle class="nr" cx="1789" cy="799" r="9"/></g>
<g id="n-R11"><circle class="nr" cx="2017" cy="799" r="9"/></g>
<g id="n-R12"><circle class="nb" cx="2170" cy="799" r="9"/></g>
<g id="n-L1"><circle class="nb" cx="1769" cy="924" r="9"/></g>
<g id="n-L2"><circle class="nb" cx="2017" cy="924" r="9"/></g>
<g id="n-L3"><circle class="nr" cx="2246" cy="924" r="9"/></g>
<g id="n-L4"><circle class="nr" cx="2396" cy="924" r="9"/></g>
<g id="n-L5"><circle class="nb" cx="2586" cy="924" r="9"/></g>
<g id="n-end"><circle class="nr" cx="2702" cy="924" r="9"/><path d="M2710 916L2714 903H2726L2722 916Z" fill="#000" stroke="#f00" stroke-width="1.5"/></g>
<g id="n-A1"><circle class="nb" cx="1352" cy="738" r="9"/></g>
<g id="n-A2"><circle class="nb" cx="1694" cy="738" r="9"/></g>
<g id="n-A3"><circle class="nb" cx="1922" cy="738" r="9"/></g>
<g id="n-A4"><circle class="nb" cx="1998" cy="738" r="9"/></g>
<g id="n-B1"><circle class="nb" cx="1694" cy="986" r="9"/></g>
<g id="n-C1"><circle class="nb" cx="763" cy="1048" r="9"/></g>
<g id="n-C2"><circle class="nb" cx="1352" cy="1048" r="9"/></g>
<g id="n-C3"><circle class="nb" cx="1922" cy="1048" r="9"/></g>
<g id="n-C4"><circle class="nb" cx="2377" cy="1048" r="9"/></g>
<g id="n-D1"><circle class="nb" cx="1561" cy="303" r="9"/></g>
<g id="n-D2"><circle class="nb" cx="1789" cy="303" r="9"/></g>
<g id="n-E1"><circle class="nb" cx="537" cy="366" r="9"/></g>
<g id="n-E2"><circle class="nb" cx="878" cy="366" r="9"/></g>
<g id="n-E3"><circle class="nb" cx="1219" cy="366" r="9"/></g>
<g id="n-E4"><circle class="nb" cx="1789" cy="366" r="9"/></g>
<g id="n-F1"><circle class="nb" cx="1561" cy="428" r="9"/></g>
<g id="n-G1"><circle class="nb" cx="1106" cy="490" r="9"/></g>
<g id="n-G2"><circle class="nb" cx="1333" cy="490" r="9"/></g>
<g id="n-H1"><circle class="nb" cx="384" cy="552" r="9"/></g>
<g id="n-H2"><circle class="nb" cx="460" cy="552" r="9"/></g>
<g id="n-H3"><circle class="nb" cx="537" cy="552" r="9"/></g>
<g id="n-H4"><circle class="nb" cx="878" cy="552" r="9"/></g>
<g id="n-H5"><circle class="nb" cx="1106" cy="552" r="9"/></g>
<g id="n-I1"><circle class="nb" cx="1106" cy="614" r="9"/></g>
<g id="n-J1"><circle class="nb" cx="916" cy="676" r="9"/></g>
<g id="n-J2"><circle class="nb" cx="1598" cy="676" r="9"/></g>
<g id="n-J3"><circle class="nb" cx="2169" cy="676" r="9"/></g>
<g id="n-K1"><circle class="nb" cx="1257" cy="1110" r="9"/></g>
<g id="n-M1"><circle class="nb" cx="384" cy="1172" r="9"/></g>
<g id="n-M2"><circle class="nb" cx="460" cy="1172" r="9"/></g>
<g id="n-M3"><circle class="nb" cx="574" cy="1172" r="9"/></g>
<g id="n-M4"><circle class="nb" cx="745" cy="1172" r="9"/></g>
<g id="n-M5"><circle class="nb" cx="916" cy="1172" r="9"/></g>
<g id="n-M6"><circle class="nb" cx="1068" cy="1172" r="9"/></g>
<g id="n-M7"><circle class="nb" cx="1296" cy="1172" r="9"/></g>
<g id="n-M8"><circle class="nb" cx="1581" cy="1172" r="9"/></g>
<g id="n-M9"><circle class="nb" cx="1808" cy="1172" r="9"/></g>
<g id="n-M10"><circle class="nb" cx="2036" cy="1172" r="9"/></g>
<g id="n-N1"><circle class="nb" cx="1296" cy="1234" r="9"/></g>
<g id="n-N2"><circle class="nb" cx="1637" cy="1234" r="9"/></g>
<g id="n-P1"><circle class="nb" cx="1086" cy="1296" r="9"/></g>
<g id="n-P2"><circle class="nb" cx="1657" cy="1296" r="9"/></g>
<g id="n-P3"><circle class="nb" cx="2112" cy="1296" r="9"/></g>
<g id="n-Q1"><circle class="nb" cx="384" cy="1357" r="9"/></g>
<g id="n-Q2"><circle class="nb" cx="537" cy="1357" r="9"/></g>
<g id="n-Q3"><circle class="nb" cx="878" cy="1357" r="9"/></g>
<g id="n-Q4"><circle class="nb" cx="1163" cy="1357" r="9"/></g>
<g id="n-S1"><circle class="nb" cx="1106" cy="1420" r="9"/></g>
<g id="n-S2"><circle class="nb" cx="1333" cy="1420" r="9"/></g>
<g id="n-S3"><circle class="nb" cx="1694" cy="1420" r="9"/></g>
<g id="n-T1"><circle class="nb" cx="1106" cy="1482" r="9"/></g>
<g id="n-T2"><circle class="nb" cx="1771" cy="1482" r="9"/></g>
<g id="n-U1"><circle class="nb" cx="1389" cy="1544" r="9"/></g>
<g id="n-V1"><circle class="nb" cx="498" cy="1606" r="9"/></g>
<g id="n-V2"><circle class="nb" cx="878" cy="1606" r="9"/></g>
<g id="n-V3"><circle class="nb" cx="1163" cy="1606" r="9"/></g>
<g id="n-V4"><circle class="nb" cx="1789" cy="1606" r="9"/></g>
<g id="n-V5"><circle class="nb" cx="2246" cy="1606" r="9"/></g>
<g id="n-V6"><circle class="nb" cx="2474" cy="1606" r="9"/></g>
<g id="n-W1"><circle class="nb" cx="1163" cy="1668" r="9"/></g>
<g id="n-W2"><circle class="nb" cx="1389" cy="1668" r="9"/></g>
</g>

<g id="notes" font-size="12">
<text x="87" y="1891">说明：</text>
<text x="105" y="1904" textLength="894" lengthAdjust="spacingAndGlyphs">本工程计划开工日期为2014年3月10日，计划竣工日期2015年7月12日，施工工期为490天。年内确保室外管道预埋基本完成，次年4月中旬确保绿化工程全面铺开施工，保证苗木成活率。</text>
<text x="105" y="1921" textLength="2716" lengthAdjust="spacingAndGlyphs">主要节点完成情况：桩基施工时间80天，完成时间2014年5月28日；基坑开挖时间（含支撑）40天，完成时间2014年7月27日；地下室结构施工时间（含拆撑）90天，完成时间为2014年9月30日；教学楼、综合楼外架拆除时间为2014年12月31日；室外附属管道预埋开始时间2015年1月1日。室外绿化工程开始时间2015年4月8日。宿舍楼、休息馆外架拆除及运动场交付时间2015年4月15日。结构施工期间教学楼与综合楼划分为一个施工段组织流水施</text>
</g>

<g id="watermarks" opacity="0.9">
<use href="#wm" x="368" y="388"/><use href="#wm" x="869" y="388"/><use href="#wm" x="1369" y="388"/><use href="#wm" x="1869" y="388"/><use href="#wm" x="2369" y="388"/>
<use href="#wm" x="368" y="589"/><use href="#wm" x="869" y="589"/><use href="#wm" x="1369" y="589"/><use href="#wm" x="1869" y="589"/><use href="#wm" x="2369" y="589"/>
<use href="#wm" x="368" y="790"/><use href="#wm" x="869" y="790"/><use href="#wm" x="1369" y="790"/><use href="#wm" x="1869" y="790"/><use href="#wm" x="2369" y="790"/>
<use href="#wm" x="368" y="989"/><use href="#wm" x="869" y="989"/><use href="#wm" x="1369" y="989"/><use href="#wm" x="1869" y="989"/><use href="#wm" x="2369" y="989"/>
<use href="#wm" x="368" y="1189"/><use href="#wm" x="869" y="1189"/><use href="#wm" x="1369" y="1189"/><use href="#wm" x="1869" y="1189"/><use href="#wm" x="2369" y="1189"/>
<use href="#wm" x="368" y="1389"/><use href="#wm" x="869" y="1389"/><use href="#wm" x="1369" y="1389"/><use href="#wm" x="1869" y="1389"/><use href="#wm" x="2369" y="1389"/>
<use href="#wm" x="368" y="1588"/><use href="#wm" x="869" y="1588"/><use href="#wm" x="1369" y="1588"/><use href="#wm" x="1869" y="1588"/><use href="#wm" x="2369" y="1588"/>
<use href="#wm" x="368" y="1788"/><use href="#wm" x="869" y="1788"/><use href="#wm" x="1369" y="1788"/><use href="#wm" x="1869" y="1788"/><use href="#wm" x="2369" y="1788"/>
</g>
</svg>
